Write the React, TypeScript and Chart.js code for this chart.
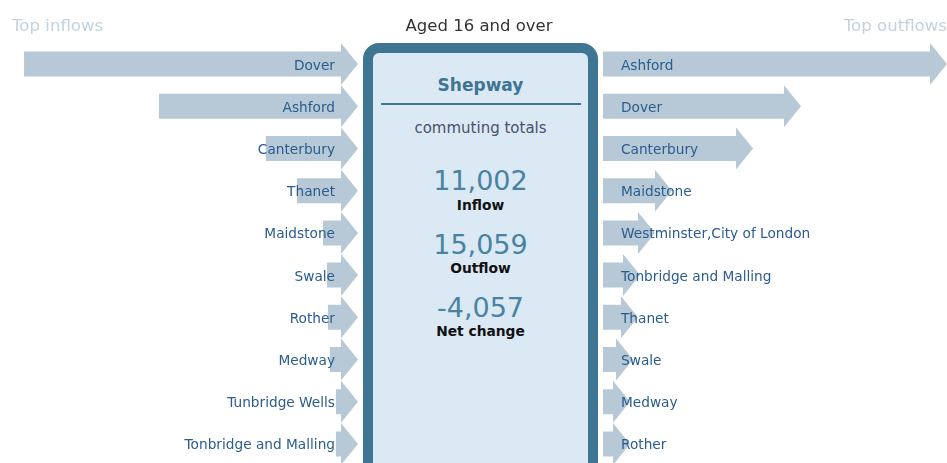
import React, { useEffect, useRef } from "react";
import { Chart, registerables } from "chart.js";

Chart.register(...registerables);

// ---------- data ----------
const inflowLabels = [
  "Dover",
  "Ashford",
  "Canterbury",
  "Thanet",
  "Maidstone",
  "Swale",
  "Rother",
  "Medway",
  "Tunbridge Wells",
  "Tonbridge and Malling",
];
const inflowValues = [2500, 1490, 690, 457, 262, 232, 225, 210, 165, 165];

const outflowLabels = [
  "Ashford",
  "Dover",
  "Canterbury",
  "Maidstone",
  "Westminster,City of London",
  "Tonbridge and Malling",
  "Thanet",
  "Swale",
  "Medway",
  "Rother",
];
const outflowValues = [2575, 1482, 1123, 516, 389, 277, 262, 225, 202, 202];

const totalValues = ["11,002", "15,059", "-4,057"];
const totalLabels = ["Inflow", "Outflow", "Net change"];

const inflowAxisMax = 2680;
const outflowAxisMax = 2575;

// ---------- styles ----------
const ARROW = "#b7c9d6";
const LABEL = "#2a5c8e";
const FONT = "'DejaVu Sans', Verdana, sans-serif";
const PANEL_BORDER = "#3e7593";
const PANEL_FILL = "#dbe9f4";

const arrowPlugin = {
  id: "arrows",
  afterDatasetsDraw(chart: any, _args: any, opts: any) {
    const { ctx } = chart;
    const meta = chart.getDatasetMeta(0);
    const labels = chart.data.labels as string[];
    ctx.save();
    meta.data.forEach((bar: any, i: number) => {
      const p = bar.getProps(["x", "y", "base", "height"], true);
      const tail = Math.min(p.x, p.base);
      const tip = Math.max(p.x, p.base);
      const y = p.y;
      const half = p.height / 2;
      const headLen = 17;
      const headHalf = 21;
      const hb = Math.max(tail, tip - headLen);
      ctx.fillStyle = ARROW;
      ctx.beginPath();
      ctx.moveTo(tail, y - half);
      ctx.lineTo(hb, y - half);
      ctx.lineTo(hb, y - headHalf);
      ctx.lineTo(tip, y);
      ctx.lineTo(hb, y + headHalf);
      ctx.lineTo(hb, y + half);
      ctx.lineTo(tail, y + half);
      ctx.closePath();
      ctx.fill();

      ctx.fillStyle = LABEL;
      ctx.font = `13.7px ${FONT}`;
      ctx.textBaseline = "alphabetic";
      if (opts.side === "left") {
        ctx.textAlign = "right";
        ctx.fillText(labels[i], tip - 23, y + 5.5);
      } else {
        ctx.textAlign = "left";
        ctx.fillText(labels[i], tail + 18, y + 5.5);
      }
    });
    ctx.restore();
  },
};

function ArrowChart(props: {
  labels: string[];
  values: number[];
  max: number;
  side: "left" | "right";
  width: number;
}) {
  const ref = useRef<HTMLCanvasElement>(null);
  useEffect(() => {
    if (!ref.current) return;
    const chart = new Chart(ref.current, {
      type: "bar",
      data: {
        labels: props.labels,
        datasets: [
          {
            data: props.values,
            backgroundColor: "rgba(0,0,0,0)",
            borderWidth: 0,
            barThickness: 25,
          },
        ],
      },
      options: {
        indexAxis: "y",
        responsive: false,
        animation: false,
        events: [],
        layout: { padding: { top: 43, bottom: 1, left: 0, right: 0 } },
        scales: {
          x: {
            type: "linear",
            min: 0,
            max: props.max,
            reverse: props.side === "left",
            display: false,
          },
          y: { type: "category", display: false, offset: true },
        },
        plugins: {
          legend: { display: false },
          tooltip: { enabled: false },
          arrows: { side: props.side },
        } as any,
      },
      plugins: [arrowPlugin],
    } as any);
    return () => chart.destroy();
  }, []);
  return <canvas ref={ref} width={props.width} height={466} />;
}

function T(props: {
  x: number;
  baseline: number;
  size: number;
  align: "left" | "center" | "right";
  color: string;
  bold?: boolean;
  children: React.ReactNode;
}) {
  const { x, baseline, size, align, color, bold } = props;
  const top = baseline - 0.346 * size;
  const style: React.CSSProperties = {
    position: "absolute",
    top,
    lineHeight: 0,
    fontFamily: FONT,
    fontSize: size,
    fontWeight: bold ? "bold" : "normal",
    color,
    whiteSpace: "nowrap",
  };
  if (align === "left") style.left = x;
  else if (align === "right") style.right = 947 - x;
  else {
    style.left = x - 200;
    style.width = 400;
    style.textAlign = "center";
  }
  return <div style={style}>{props.children}</div>;
}

export default function App() {
  useEffect(() => {
    document.body.style.margin = "0";
    document.body.style.overflow = "hidden";
    document.body.style.background = "#ffffff";
  }, []);
  const cx = 480.5;
  const numBase = [190, 254, 317];
  const labBase = [209.5, 273, 335.5];
  return (
    <div
      style={{
        position: "relative",
        width: 947,
        height: 463,
        overflow: "hidden",
        background: "#fff",
      }}
    >
      <div style={{ position: "absolute", left: 0, top: 0 }}>
        <ArrowChart
          labels={inflowLabels}
          values={inflowValues}
          max={inflowAxisMax}
          side="left"
          width={358}
        />
      </div>
      <div style={{ position: "absolute", left: 603, top: 0 }}>
        <ArrowChart
          labels={outflowLabels}
          values={outflowValues}
          max={outflowAxisMax}
          side="right"
          width={344}
        />
      </div>

      <T x={12} baseline={31.5} size={16.6} align="left" color="#c3d3de">
        Top inflows
      </T>
      <T x={947} baseline={31.5} size={16.6} align="right" color="#c3d3de">
        Top outflows
      </T>
      <T x={479} baseline={31.5} size={16.5} align="center" color="#333333">
        Aged 16 and over
      </T>

      <div
        style={{
          position: "absolute",
          left: 363,
          top: 43,
          width: 235,
          height: 440,
          boxSizing: "border-box",
          border: `10px solid ${PANEL_BORDER}`,
          borderRadius: 16,
          background: PANEL_FILL,
        }}
      />
      <T x={cx} baseline={90.5} size={17} align="center" color={PANEL_BORDER} bold>
        Shepway
      </T>
      <div
        style={{
          position: "absolute",
          left: 381,
          top: 103,
          width: 200,
          height: 2,
          background: PANEL_BORDER,
        }}
      />
      <T x={cx} baseline={133} size={15} align="center" color="#4a4f6e">
        commuting totals
      </T>
      {totalValues.map((v, i) => (
        <React.Fragment key={i}>
          <T x={cx} baseline={numBase[i]} size={27} align="center" color="#4a82a3">
            {v}
          </T>
          <T x={cx} baseline={labBase[i]} size={13.8} align="center" color="#111111" bold>
            {totalLabels[i]}
          </T>
        </React.Fragment>
      ))}
    </div>
  );
}
